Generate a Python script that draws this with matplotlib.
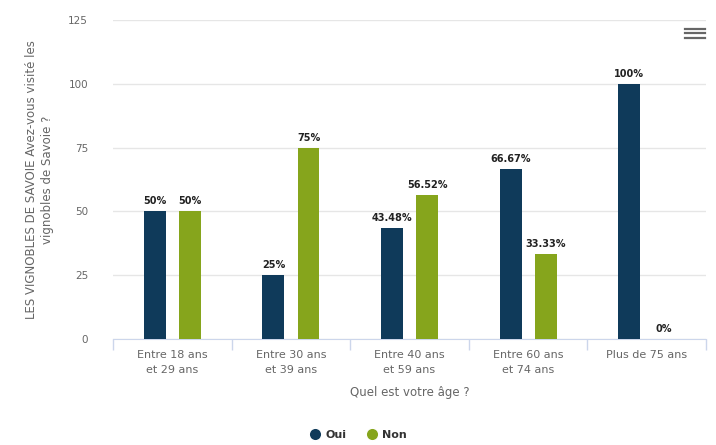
import matplotlib
matplotlib.use("Agg")
import matplotlib.pyplot as plt
import numpy as np
from matplotlib.lines import Line2D

# données
categories = ["Entre 18 ans\net 29 ans", "Entre 30 ans\net 39 ans", "Entre 40 ans\net 59 ans",
              "Entre 60 ans\net 74 ans", "Plus de 75 ans"]
oui = [50, 25, 43.48, 66.67, 100]
non = [50, 75, 56.52, 33.33, 0]
oui_labels = ["50%", "25%", "43.48%", "66.67%", "100%"]
non_labels = ["50%", "75%", "56.52%", "33.33%", "0%"]

col_oui = "#0f3a5a"
col_non = "#86a51c"
grey = "#666666"

plt.rcParams['font.family'] = ['DejaVu Sans']

fig = plt.figure(figsize=(7.16, 4.45), dpi=100)
ax = fig.add_axes([0.158, 0.238, 0.828, 0.717])

x = np.arange(len(categories))
w = 0.185
off = 0.148
b1 = ax.bar(x - off, oui, w, color=col_oui, zorder=3)
b2 = ax.bar(x + off, non, w, color=col_non, zorder=3)

for rect, lab in zip(b1, oui_labels):
    ax.text(rect.get_x() + rect.get_width() / 2, rect.get_height() + 2, lab,
            ha="center", va="bottom", fontsize=7, fontweight="bold", color="#222222", zorder=4)
for rect, lab in zip(b2, non_labels):
    ax.text(rect.get_x() + rect.get_width() / 2, rect.get_height() + 2, lab,
            ha="center", va="bottom", fontsize=7, fontweight="bold", color="#222222", zorder=4)

ax.set_xlim(-0.5, len(categories) - 0.5)
ax.set_ylim(0, 125)
ax.set_yticks([0, 25, 50, 75, 100, 125])
ax.grid(axis="y", color="#e6e6e6", linewidth=1, zorder=0)

ax.set_xticks(x)
ax.set_xticklabels(categories, fontsize=8, color=grey, linespacing=1.6)
ax.tick_params(axis="x", length=0, pad=8)
ax.set_xticks(np.arange(-0.5, len(categories) + 0.5, 1), minor=True)
ax.tick_params(axis="x", which="minor", length=8, color="#ccd6eb", width=1)
ax.tick_params(axis="y", length=0, labelsize=7.5, labelcolor=grey, pad=18)

for s in ["top", "right", "left"]:
    ax.spines[s].set_visible(False)
ax.spines["bottom"].set_color("#ccd6eb")

ax.set_xlabel("Quel est votre âge ?", fontsize=8.5, color=grey, labelpad=8)
ax.set_ylabel("LES VIGNOBLES DE SAVOIE Avez-vous visité les\nvignobles de Savoie ?",
              fontsize=8.5, color=grey, labelpad=10, linespacing=1.3)

handles = [Line2D([0], [0], marker="o", color="w", markerfacecolor=col_oui, markersize=9, label="Oui"),
           Line2D([0], [0], marker="o", color="w", markerfacecolor=col_non, markersize=9, label="Non")]
leg = fig.legend(handles=handles, loc="center", bbox_to_anchor=(0.5, 0.022), ncol=2, frameon=False,
                 fontsize=8, handletextpad=0.4, columnspacing=1.8, handlelength=1)
for t in leg.get_texts():
    t.set_fontweight("bold")
    t.set_color("#333333")

# icône menu
for yy in [0.935, 0.925, 0.915]:
    fig.add_artist(Line2D([0.957, 0.985], [yy, yy], color="#666666", linewidth=1.6))

fig.savefig("out.png", dpi=100)
